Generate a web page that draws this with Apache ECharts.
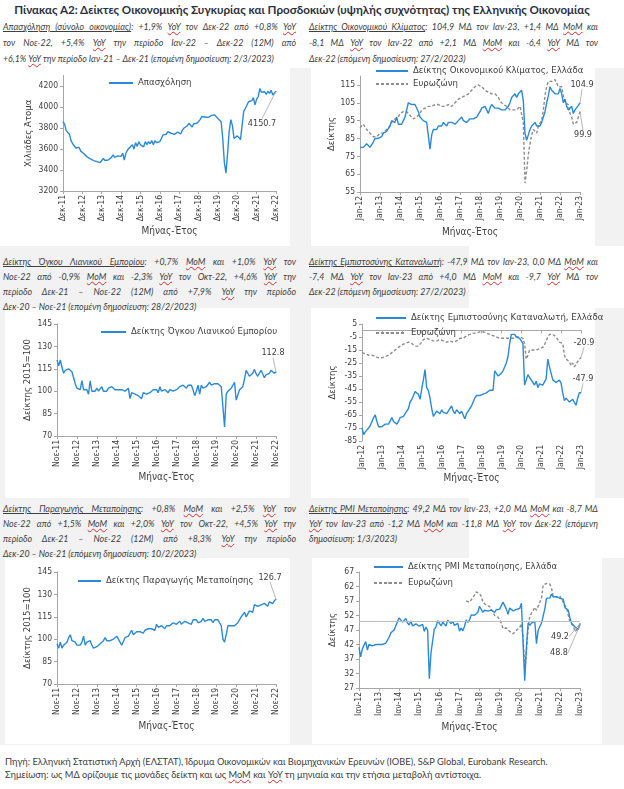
<!DOCTYPE html>
<html lang="el">
<head>
<meta charset="utf-8">
<title>Πίνακας Α2</title>
<script src="https://cdn.jsdelivr.net/npm/echarts@6/dist/echarts.min.js"></script>
<style>
html,body{margin:0;padding:0;}
body{width:624px;height:789px;position:relative;overflow:hidden;background:#fff;font-family:Lato,'Open Sans','Noto Sans',sans-serif;color:#404040;}
.bg{position:absolute;}
#title{position:absolute;left:0;top:3px;width:604px;text-align:center;font-weight:700;font-size:11.6px;color:#2a2f3d;white-space:nowrap;}
.blk{position:absolute;font-style:italic;font-size:8.8px;color:#404040;}
.blk .ln{text-align:justify;text-align-last:justify;white-space:nowrap;}
.blk .ln.last{text-align-last:left;}
.u{text-decoration:underline;}
.sp{text-decoration:underline wavy #d42a2a;text-decoration-thickness:0.7px;text-underline-offset:1px;}
#foot{position:absolute;left:5px;top:755px;font-size:9.3px;line-height:13px;color:#404040;white-space:nowrap;}
#chart{position:absolute;left:0;top:0;width:624px;height:789px;}
</style>
</head>
<body>
<div id="bgs"></div>
<div id="title">Πίνακας Α2: Δείκτες Οικονομικής Συγκυρίας και Προσδοκιών (υψηλής συχνότητας) της Ελληνικής Οικονομίας</div>
<div id="blocks"></div>
<div id="foot">Πηγή: Ελληνική Στατιστική Αρχή (ΕΛΣΤΑΤ), Ίδρυμα Οικονομικών και Βιομηχανικών Ερευνών (ΙΟΒΕ), S&amp;P Global, Eurobank Research.<br>Σημείωση: ως ΜΔ ορίζουμε τις μονάδες δείκτη και ως <span class="sp">MoM</span> και <span class="sp">YoY</span> τη μηνιαία και την ετήσια μεταβολή αντίστοιχα.</div>
<div id="chart"></div>
<script>
// ---------- page shading (layout only) ----------
const shading = [
  {x:0,   y:68,  w:624, h:677, c:'#f2f2f2'},
  {x:0,   y:68,  w:290, h:178, c:'#ffffff'},
  {x:311, y:68,  w:284, h:178, c:'#ffffff'},
  {x:469, y:246, w:155, h:62,  c:'#ffffff'},
  {x:5,   y:308, w:285, h:190, c:'#ffffff'},
  {x:311, y:308, w:284, h:190, c:'#ffffff'},
  {x:469, y:498, w:155, h:60,  c:'#ffffff'},
  {x:5,   y:558, w:285, h:186, c:'#ffffff'},
  {x:312, y:558, w:290, h:186, c:'#ffffff'}
];
(function(){
  const host=document.getElementById('bgs');
  shading.forEach(r=>{const d=document.createElement('div');d.className='bg';
    d.style.cssText='left:'+r.x+'px;top:'+r.y+'px;width:'+r.w+'px;height:'+r.h+'px;background:'+r.c;host.appendChild(d);});
})();

// ---------- text blocks ----------
const textBlocks = [
  {x:3, y:19, w:293, lh:16, head:'Απασχόληση (σύνολο οικονομίας)', lines:[
    'Απασχόληση (σύνολο οικονομίας): +1,9% YoY τον Δεκ-22 από +0,8% YoY',
    'τον Νοε-22, +5,4% YoY την περίοδο Ιαν-22 – Δεκ-22 (12M) από',
    '+6,1% YoY την περίοδο Ιαν-21 – Δεκ-21 (επομένη δημοσίευση: 2/3/2023)']},
  {x:309, y:19, w:289, lh:16, head:'Δείκτης Οικονομικού Κλίματος', lines:[
    'Δείκτης Οικονομικού Κλίματος: 104,9 ΜΔ τον Ιαν-23, +1,4 ΜΔ MoM και',
    '-8,1 ΜΔ YoY τον Ιαν-22 από +2,1 ΜΔ MoM και -6,4 YoY ΜΔ τον',
    'Δεκ-22 (επόμενη δημοσίευση: 27/2/2023)']},
  {x:3, y:254, w:293, lh:15, head:'Δείκτης Όγκου Λιανικού Εμπορίου', lines:[
    'Δείκτης Όγκου Λιανικού Εμπορίου: +0,7% MoM και +1,0% YoY τον',
    'Νοε-22 από -0,9% MoM και -2,3% YoY τον Οκτ-22, +4,6% YoY την',
    'περίοδο Δεκ-21 – Νοε-22 (12M) από +7,9% YoY την περίοδο',
    'Δεκ-20 – Νοε-21 (επομένη δημοσίευση: 28/2/2023)']},
  {x:309, y:254, w:289, lh:15, head:'Δείκτης Εμπιστοσύνης Καταναλωτή', lines:[
    'Δείκτης Εμπιστοσύνης Καταναλωτή: -47,9 ΜΔ τον Ιαν-23, 0,0 ΜΔ MoM και',
    '-7,4 ΜΔ YoY τον Ιαν-23 από +4,0 ΜΔ MoM και -9,7 YoY ΜΔ τον',
    'Δεκ-22 (επόμενη δημοσίευση: 27/2/2023)']},
  {x:3, y:501, w:293, lh:15, head:'Δείκτης Παραγωγής Μεταποίησης', lines:[
    'Δείκτης Παραγωγής Μεταποίησης: +0,8% MoM και +2,5% YoY τον',
    'Νοε-22 από +1,5% MoM και +2,0% YoY τον Οκτ-22, +4,5% YoY την',
    'περίοδο Δεκ-21 – Νοε-22 (12M) από +8,3% YoY την περίοδο',
    'Δεκ-20 – Νοε-21 (επόμενη δημοσίευση: 10/2/2023)']},
  {x:309, y:501, w:289, lh:15, head:'Δείκτης PMI Μεταποίησης', lines:[
    'Δείκτης PMI Μεταποίησης: 49,2 ΜΔ τον Ιαν-23, +2,0 ΜΔ MoM και -8,7 ΜΔ',
    'YoY τον Ιαν-23 από -1,2 ΜΔ MoM και -11,8 ΜΔ YoY τον Δεκ-22 (επόμενη',
    'δημοσίευση: 1/3/2023)']}
];
(function(){
  const host = document.getElementById('blocks');
  const esc = s => s.replace(/&/g,'&amp;').replace(/</g,'&lt;');
  const mark = s => esc(s).replace(/\b(YoY|MoM)\b/g,'<span class="sp">$1</span>');
  textBlocks.forEach(b=>{
    const d = document.createElement('div');
    d.className='blk';
    d.style.left=b.x+'px'; d.style.top=b.y+'px'; d.style.width=b.w+'px'; d.style.lineHeight=b.lh+'px';
    d.innerHTML = b.lines.map((l,i)=>{
      const html = i===0 ? '<span class="u">'+esc(b.head)+'</span>'+mark(l.slice(b.head.length)) : mark(l);
      return '<div class="ln'+(i===b.lines.length-1?' last':'')+'">'+html+'</div>';
    }).join('');
    host.appendChild(d);
  });
})();

// ---------- data ----------
const monthsGR = ['Ιαν','Φεβ','Μαρ','Απρ','Μαϊ','Ιουν','Ιουλ','Αυγ','Σεπ','Οκτ','Νοε','Δεκ'];
const monthsEN = ['Jan','Feb','Mar','Apr','May','Jun','Jul','Aug','Sep','Oct','Nov','Dec'];
function monthLabels(names, year, month, count){
  const out=[];
  for(let i=0;i<count;i++){
    const m=(month+i)%12, y=year+Math.floor((month+i)/12);
    out.push(names[m]+'-'+String(y%100).padStart(2,'0'));
  }
  return out;
}
const catsEmployment = monthLabels(monthsGR, 2011, 11, 133);   // Δεκ-11 .. Δεκ-22
const catsSentiment  = monthLabels(monthsEN, 2012, 0, 133);    // Jan-12 .. Jan-23
const catsRetail     = monthLabels(monthsGR, 2011, 10, 133);   // Νοε-11 .. Νοε-22
const catsConsumer   = monthLabels(monthsEN, 2012, 0, 133);    // Jan-12 .. Jan-23
const catsIndustry   = monthLabels(monthsGR, 2011, 10, 133);   // Νοε-11 .. Νοε-22
const catsPMI        = monthLabels(monthsGR, 2012, 0, 133);    // Ιαν-12 .. Ιαν-23

const employment = [3860,
 3835,3775,3765,3740,3680,3650,3640,3610,3595,3615,3580,3575,
 3555,3540,3525,3515,3505,3500,3490,3485,3480,3470,3470,3465,
 3510,3490,3500,3495,3490,3520,3545,3520,3510,3535,3520,3530,
 3560,3495,3560,3590,3610,3600,3640,3600,3660,3625,3670,3640,
 3650,3620,3670,3640,3670,3650,3680,3640,3680,3660,3645,3670,
 3700,3735,3720,3740,3765,3760,3750,3755,3740,3735,3760,3765,
 3745,3780,3800,3790,3820,3845,3830,3810,3840,3825,3845,3840,
 3880,3910,3915,3905,3918,3900,3910,3920,3905,3925,3915,3890,
 3880,3860,3700,3470,3370,3560,3770,3880,3820,3700,3690,3725,
 3710,3690,3700,3960,3985,3990,4050,4040,4060,4090,4020,4075,
 4100,4175,4140,4130,4145,4120,4150,4130,4160,4115,4130,4150.7];

const sentimentGR = [
 80,79,80,81,82,81,80,81,83,85,86,85,
 85,86,88,88,89,90,92,95,95,94,97,93,
 94,93,95,97,98,105,105,104,103,104,103,100,
 97,96,95,96,94,93,79,87,90,91,90,92,
 91,92,94,93,92,94,93,94,94,93,94,95,
 96,97,95,96,94,95,96,97,96,97,97,98,
 100,102,101,103,101,99,102,104,103,102,102,102,
 102,101,102,101,102,103,105,108,109,110,108,110,
 109,112,106,88,84,87,90,92,91,94,92,93,
 92,94,95,100,105,109,114,112,113,110,111,110,
 113,110,105,107,103,101,100,103,99,101,101.4,103.5,
 104.9];
const sentimentEZ = [
 91,92,93,92,90,89,88,87,86,86,86,87,
 88,88,88,89,90,91,92,94,95,96,97,97,
 99,99,100,100,100,99,98,97,96,97,97,97,
 99,101,102,102,103,103,103,103,103,104,104,104,
 103,103,103,103,104,104,103,103,104,105,106,107,
 107,108,108,109,110,110,111,112,113,114,114,115,
 115,114,113,112,111,111,111,110,110,110,109,108,
 106,105,104,103,103,102,101,101,101,101,101,102,
 103,104,94,60,67,76,82,87,90,91,88,92,
 93,95,101,109,114,117,118,117,117,118,117,114,
 113,114,109,105,105,104,99,97,93,93,94,97,
 99.9];

const retail = [
 121,117,121,116,112,114,113,115,116,113,109,105,
 102,103,101,107,101,102,101,98,107,100,101,100,
 102,100,101,103,100,101,100,102,101,103,102,101,
 101,101,100,101,102,100,101,102,95,99,99,98,
 99,97,98,95,99,100,98,97,99,100,101,100,
 101,99,103,100,99,101,100,99,101,102,100,101,
 101,102,103,102,104,103,102,104,103,104,101,97,
 100,104,98,104,102,101,103,104,106,104,104,105,
 104,105,104,103,102,76,98,100,101,102,104,106,
 94,93,101,101,103,108,114,113,110,109,112,114.6,
 111.7,110,112,114,114,109,111,111,112,114,113.0,112.0,
 112.8];

const consumerGR = [
 -75,-80,-78,-77,-75,-73,-70,-67,-65,-70,-74,-75,
 -74,-75,-72,-71,-72,-71,-67,-70,-71,-72,-70,-67,
 -67,-66,-64,-63,-60,-55,-53,-50,-47,-46,-49,-53,
 -45,-38,-30,-44,-46,-52,-60,-66,-65,-62,-63,-64,
 -61,-63,-62,-64,-62,-60,-58,-62,-64,-61,-60,-64,
 -62,-63,-68,-64,-62,-60,-58,-55,-52,-50,-49,-50,
 -50,-49,-50,-48,-47,-46,-45,-46,-31,-33,-35,-34,
 -33,-31,-28,-25,-20,-10,-3,-4,-3,-5,-4,-6,
 -8,-10,-42,-38,-34,-36,-35,-40,-42,-39,-44,-41,
 -40,-42,-43,-37,-22,-28,-33,-38,-39,-40,-40,-38.2,
 -40.5,-48,-54,-52,-53,-55,-54,-53,-54,-57.5,-51.9,-47.9,
 -47.9];
const consumerEZ = [
 -17,-17,-18,-18,-19,-19,-19,-20,-20,-20,-21,-21,
 -21,-20,-20,-19,-19,-18,-17,-16,-15,-14,-13,-12,
 -11,-10,-10,-9,-9,-9,-10,-11,-12,-12,-12,-11,
 -9,-7,-6,-6,-6,-7,-7,-8,-8,-8,-7,-7,
 -7,-8,-8,-9,-8,-8,-9,-9,-8,-8,-7,-6,
 -6,-6,-5,-4,-4,-3,-3,-2,-2,-2,-1,-1,
 -1,-1,-2,-2,-3,-3,-4,-4,-5,-5,-5,-6,
 -6,-6,-6,-6,-5,-6,-6,-6,-5,-5,-5,-5,
 -5,-6,-10,-22,-19,-15,-15,-15,-14,-15,-16,-14,
 -14,-13,-11,-8,-5,-3,-2,-3,-4,-5,-7,-9,
 -9,-10,-19,-22,-21,-24,-27,-25,-28,-27,-24,-22,
 -20.9];

const industry = [
 97,94,98,94,96,95,98,101,103,99,99,98,
 96,95,96,98,102,96,98,97,99,96,94,94,
 95,96,97,98,99,101,99,98,99,98,100,99,
 102,100,98,96,95,101,101,102,104,106,103,104,
 105,104,105,106,104,106,105,107,106,107,108,106,
 110,108,107,109,108,107,109,110,109,110,111,112,
 110,111,112,110,111,112,113,111,111,110,113,112,
 113,111,112,112,114,112,111,113,112,113,111,113,
 114,113,112,109,100,98,103,109,110,109,110,109,
 108,111,113,115,116,118,115,116,119,118,118,123.2,
 123.6,122,121,123,122,124,123,122,125,124,123.8,125.7,
 126.7];

const pmiGR = [
 41.0,37.7,40.5,41.0,43.0,40.1,42.0,42.2,41.5,41.0,42.0,41.5,
 42.0,42.5,42.0,41.5,42.5,43.5,44.5,46.0,46.5,47.0,48.5,49.0,
 51.2,51.3,49.7,50.1,51.0,49.4,48.7,50.1,48.4,48.8,49.1,49.4,
 48.3,48.4,48.9,46.5,48.0,46.9,30.2,39.1,43.3,47.3,48.1,50.2,
 50.0,48.4,49.7,49.7,48.4,50.4,50.4,49.2,50.0,48.6,48.3,49.3,
 46.6,47.7,46.7,48.2,50.5,49.6,50.5,52.2,52.8,52.1,52.2,53.1,
 55.2,55.0,53.1,53.8,54.2,53.5,53.5,53.9,53.6,53.1,54.0,53.7,
 54.2,54.2,56.6,56.6,54.2,52.4,54.6,54.9,53.6,53.5,54.1,53.9,
 54.4,56.2,42.5,29.5,41.1,49.4,48.6,49.4,50.0,50.0,42.3,46.9,
 46.8,49.4,51.8,54.4,58.0,58.6,58.0,59.4,58.4,58.8,58.5,59.0,
 57.9,57.8,57.6,54.7,54.6,53.8,51.1,49.2,48.7,48.1,48.4,47.2,
 49.2];
// Eurozone PMI is drawn from May-17 onwards
const pmiEZfromMay17 = [
 57.0,57.4,56.6,57.4,58.1,58.5,60.1,60.6,
 59.6,58.6,56.6,56.2,55.5,54.9,55.1,54.6,53.2,52.0,51.8,51.4,
 50.5,49.3,47.5,47.9,47.7,47.6,46.5,47.0,45.7,45.9,46.9,46.3,
 47.9,49.2,44.5,33.4,39.4,47.4,51.8,51.7,53.7,54.8,53.8,55.2,
 54.8,57.9,62.5,62.9,63.1,63.4,62.8,61.4,58.6,58.3,58.4,58.0,
 58.7,58.2,56.5,55.5,54.6,52.1,49.8,49.6,48.4,46.4,47.1,47.8,
 48.8];
const pmiEZ = new Array(133 - pmiEZfromMay17.length).fill(null).concat(pmiEZfromMay17);
const pmiThreshold = 50;

// ---------- chart ----------
const NARROW = "'Liberation Sans Narrow','Arial Narrow','DejaVu Sans Condensed','Liberation Sans',sans-serif";
const AX = '#a6a6a6', TXT = '#404040', BLUE = '#2b8ad8', GREY = '#8c8c8c';

const grids = [
  {left:63,  top:75.5, width:213, height:115.5},
  {left:360, top:76,   width:220, height:116},
  {left:57,  top:324,  width:219, height:112},
  {left:362, top:324,  width:219, height:117},
  {left:57,  top:572,  width:219, height:112},
  {left:359, top:572,  width:221, height:116}
];
function xAx(gi, cats, gap){
  return {type:'category', gridIndex:gi, data:cats, boundaryGap:false,
    axisLine:{lineStyle:{color:AX,width:1}},
    axisTick:{show:true, interval:11, length:3, lineStyle:{color:AX}},
    axisLabel:{interval:11, rotate:90, margin:4, fontFamily:NARROW, fontSize:8.5, color:TXT},
    splitLine:{show:false},
    name:'Μήνας-Έτος', nameLocation:'middle', nameGap:gap,
    nameTextStyle:{fontFamily:NARROW, fontSize:10, color:TXT}};
}
function yAx(gi, min, max, interval, name, gap, hideMax){
  return {type:'value', gridIndex:gi, min, max, interval, splitLine:{show:false},
    axisLine:{show:true, lineStyle:{color:AX}},
    axisTick:{show:true, length:3, lineStyle:{color:AX}},
    axisLabel:{fontFamily:NARROW, fontSize:8.5, color:TXT, margin:5, showMaxLabel:!hideMax,
      formatter:v=>String(v)},
    name, nameLocation:'middle', nameGap:gap,
    nameTextStyle:{fontFamily:NARROW, fontSize:9.5, color:TXT}};
}
function lineSeries(name, gi, data, color, dashed, lbl){
  const d = data.slice();
  const last = d.length - 1;
  d[last] = {value:data[last], symbol:'circle', symbolSize:1,
    label:{show:true, position:'inside', formatter:p=>String(p.value),
      fontFamily:NARROW, fontSize:9, color:TXT}};
  return {type:'line', name, xAxisIndex:gi, yAxisIndex:gi, data:d,
    symbol:'none', showSymbol:true, showAllSymbol:true, animation:false, connectNulls:false,
    lineStyle:{color, width:1.4, type:dashed?[3,2]:'solid'}, itemStyle:{color},
    label:{show:false},
    labelLayout:{dx:lbl[0], dy:lbl[1]},
    labelLine:{show:true, lineStyle:{color:'#a6a6a6', width:0.8}},
    emphasis:{disabled:true}};
}
function leg(names, left, top, iw, gap){
  return {data:names, left, top, orient:'vertical', itemWidth:iw, itemHeight:2, itemGap:gap,
    padding:0, selectedMode:false,
    textStyle:{fontFamily:NARROW, fontSize:9.5, color:TXT}};
}

const pmiSeries = lineSeries('Δείκτης PMI Μεταποίησης, Ελλάδα', 5, pmiGR, BLUE, false, [-20,13]);
pmiSeries.markLine = {silent:true, symbol:'none', label:{show:false},
  lineStyle:{color:'#bdbdbd', width:1, type:'solid'}, data:[{yAxis:pmiThreshold}]};

const option = {
  animation:false,
  backgroundColor:'transparent',
  grid:grids,
  xAxis:[
    xAx(0, catsEmployment, 35),
    xAx(1, catsSentiment, 35),
    xAx(2, catsRetail, 36),
    xAx(3, catsConsumer, 32),
    xAx(4, catsIndustry, 37),
    xAx(5, catsPMI, 34)
  ],
  yAxis:[
    yAx(0, 3200, 4300, 200, 'Χιλιάδες Άτομα', 29, true),
    yAx(1, 55, 120, 10, 'Δείκτης', 23, true),
    yAx(2, 70, 145, 15, 'Δείκτης 2015=100', 24, false),
    yAx(3, -85, 5, 10, 'Δείκτης', 24, false),
    yAx(4, 70, 145, 15, 'Δείκτης 2015=100', 24, false),
    yAx(5, 27, 67, 5, 'Δείκτης', 21, false)
  ],
  legend:[
    leg(['Απασχόληση'], 108, 78, 24, 4),
    leg(['Δείκτης Οικονομικού Κλίματος, Ελλάδα','Ευρωζώνη'], 375, 66, 32, 3),
    leg(['Δείκτης Όγκου Λιανικού Εμπορίου'], 100, 327, 25, 4),
    leg(['Δείκτης Εμπιστοσύνης Καταναλωτή, Ελλάδα','Ευρωζώνη'], 375, 313, 30, 5),
    leg(['Δείκτης Παραγωγής Μεταποίησης'], 77, 576, 23, 4),
    leg(['Δείκτης PMI Μεταποίησης, Ελλάδα','Ευρωζώνη'], 373, 562, 29, 6)
  ],
  series:[
    lineSeries('Απασχόληση', 0, employment, BLUE, false, [-14,32]),
    lineSeries('Ευρωζώνη', 1, sentimentEZ, GREY, true, [3,23]),
    lineSeries('Δείκτης Οικονομικού Κλίματος, Ελλάδα', 1, sentimentGR, BLUE, false, [2,-18]),
    lineSeries('Δείκτης Όγκου Λιανικού Εμπορίου', 2, retail, BLUE, false, [-3,-19]),
    lineSeries('Ευρωζώνη', 3, consumerEZ, GREY, true, [3,-15]),
    lineSeries('Δείκτης Εμπιστοσύνης Καταναλωτή, Ελλάδα', 3, consumerGR, BLUE, false, [2,-14]),
    lineSeries('Δείκτης Παραγωγής Μεταποίησης', 4, industry, BLUE, false, [-6,-22]),
    lineSeries('Ευρωζώνη', 5, pmiEZ, GREY, true, [-21,28]),
    pmiSeries
  ]
};
const chart = echarts.init(document.getElementById('chart'), null, {renderer:'canvas'});
chart.setOption(option);
</script>
</body>
</html>
